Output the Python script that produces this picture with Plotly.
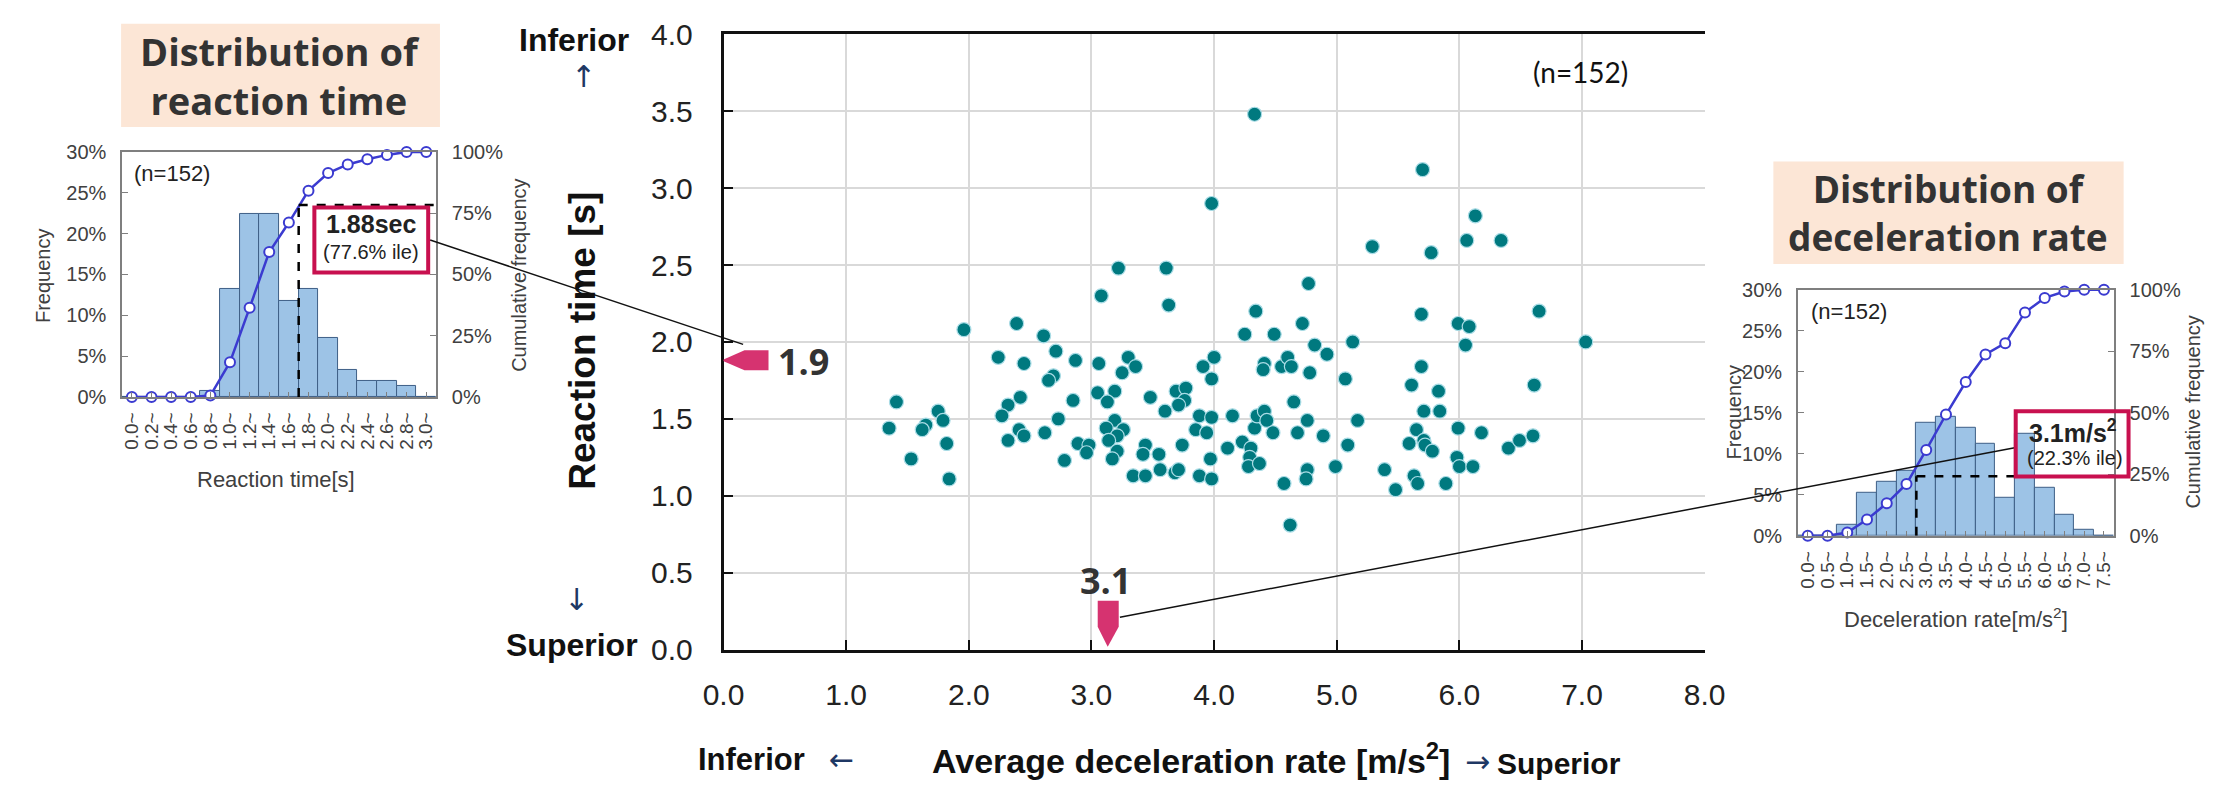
import plotly.graph_objects as go

W, H = 2230, 794

# ---------------- data ----------------
decel = [1.41, 1.35, 1.53, 1.75, 1.79, 1.65, 1.62, 1.82, 1.84, 1.96,
         2.39, 2.61, 2.71, 3.08, 3.22, 2.24, 2.45, 2.87, 3.06, 3.30,
         3.36, 3.25, 2.69, 2.65, 2.42, 2.32, 2.27, 2.41, 2.45, 2.32,
         2.62, 2.73, 2.85, 2.78, 2.89, 2.98, 2.96, 3.05, 3.19, 3.13,
         3.19, 3.12, 3.26, 3.21, 3.14, 3.21, 3.17, 3.34, 3.44, 3.42,
         3.44, 3.55, 3.56, 3.68, 3.71, 3.74, 3.48, 3.60, 3.69, 3.77,
         3.76, 3.71, 3.88, 3.98, 3.85, 3.94, 3.97, 3.88, 3.98, 3.91,
         4.00, 3.98, 4.15, 4.11, 4.23, 4.30, 4.29, 4.28, 4.37, 4.33,
         4.35, 4.41, 4.43, 4.48, 4.41, 4.40, 4.55, 4.60, 4.63, 4.78,
         4.65, 4.76, 4.68, 4.89, 5.07, 5.17, 5.09, 4.99, 4.76, 4.75,
         4.57, 4.62, 5.39, 5.48, 5.63, 5.66, 5.89, 5.59, 5.65, 5.71,
         5.72, 5.78, 5.71, 5.84, 5.61, 5.83, 5.69, 5.99, 6.18, 5.98,
         6.00, 6.11, 6.40, 6.49, 6.60, 6.61, 4.25, 4.49, 4.82, 5.13,
         6.05, 7.03, 4.92, 4.33, 5.70, 3.98, 6.13, 6.06, 6.34, 5.29,
         5.77, 3.61, 3.63, 4.77, 4.34, 5.69, 6.65, 4.72, 5.99, 6.08]
react = [1.61, 1.44, 1.24, 1.55, 1.49, 1.46, 1.43, 1.34, 1.11, 2.08,
         2.12, 2.04, 1.94, 2.30, 2.48, 1.90, 1.86, 1.88, 1.86, 1.90,
         1.84, 1.80, 1.78, 1.75, 1.64, 1.59, 1.52, 1.43, 1.39, 1.36,
         1.41, 1.50, 1.62, 1.23, 1.34, 1.33, 1.28, 1.67, 1.68, 1.61,
         1.49, 1.44, 1.43, 1.39, 1.36, 1.29, 1.24, 1.13, 1.33, 1.27,
         1.13, 1.27, 1.17, 1.15, 1.17, 1.33, 1.64, 1.55, 1.68, 1.70,
         1.62, 1.59, 1.52, 1.51, 1.43, 1.41, 1.24, 1.13, 1.11, 1.84,
         1.90, 1.76, 1.52, 1.31, 1.35, 1.31, 1.25, 1.19, 1.21, 1.44,
         1.52, 1.55, 1.49, 1.41, 1.86, 1.82, 1.84, 1.90, 1.84, 1.80,
         1.61, 1.49, 1.41, 1.39, 1.76, 1.49, 1.33, 1.19, 1.17, 1.11,
         1.08, 0.81, 1.17, 1.04, 1.13, 1.08, 1.08, 1.34, 1.43, 1.36,
         1.33, 1.29, 1.55, 1.55, 1.72, 1.68, 1.84, 1.44, 1.41, 1.25,
         1.19, 1.19, 1.31, 1.36, 1.39, 1.72, 2.05, 2.05, 1.98, 2.00,
         1.98, 2.00, 1.92, 3.48, 3.12, 2.90, 2.82, 2.66, 2.66, 2.62,
         2.58, 2.48, 2.24, 2.38, 2.20, 2.18, 2.20, 2.12, 2.12, 2.10]

rt_bins = ["0.0~", "0.2~", "0.4~", "0.6~", "0.8~", "1.0~", "1.2~", "1.4~",
           "1.6~", "1.8~", "2.0~", "2.2~", "2.4~", "2.6~", "2.8~", "3.0~"]
rt_freq = [0, 0, 0, 0, 0.7, 13.2, 22.4, 22.4, 11.8, 13.2, 7.2, 3.3, 2.0, 2.0, 1.3, 0]
rt_cum = [0, 0, 0, 0, 0.6, 14.2, 36.4, 59.2, 71.2, 84.2, 91.4, 94.9, 97.0, 98.8, 100, 100]

dr_bins = ["0.0~", "0.5~", "1.0~", "1.5~", "2.0~", "2.5~", "3.0~", "3.5~",
           "4.0~", "4.5~", "5.0~", "5.5~", "6.0~", "6.5~", "7.0~", "7.5~"]
dr_freq = [0, 0, 1.3, 5.3, 6.6, 7.9, 13.8, 14.5, 13.2, 11.2, 4.6, 12.5, 5.9, 2.6, 0.7, 0]
dr_cum = [0, 0, 1.3, 6.6, 13.2, 21.1, 34.9, 49.3, 62.5, 73.7, 78.3, 90.8, 96.7, 99.3, 100, 100]

freq_ticks = [0, 5, 10, 15, 20, 25, 30]
cum_ticks = [0, 25, 50, 75, 100]

rt_mark, dr_mark = 1.9, 3.1
rt_cut_pos, rt_cut_level = 8.5, 78.4
dr_cut_pos, dr_cut_level = 5.5, 24.2

# ---------------- styling ----------------
ARIAL = "Liberation Sans, Arial, sans-serif"
SEGOE = "Open Sans, Noto Sans, sans-serif"
ARROWF = "DejaVu Sans, sans-serif"
PINK = "#D63370"
CRIMSON = "#C8104F"
NAVY = "#1F3864"
PEACH = "#FCE6D6"
BAR = "#9DC3E6"
BAR_LINE = "#3E5F86"
CUM = "#3B3BD0"
TEAL = "#00797F"


def px(x):
    return x / W


def py(y):
    return 1 - y / H


fig = go.Figure()

# main scatter
fig.add_trace(go.Scatter(x=decel, y=react, mode="markers", xaxis="x", yaxis="y",
                         marker=dict(size=14, color=TEAL, line=dict(color="#A9DCE6", width=1.2)),
                         hoverinfo="x+y"))

# left histogram
fig.add_trace(go.Bar(x=rt_bins, y=rt_freq, xaxis="x2", yaxis="y2", width=1,
                     marker=dict(color=BAR, line=dict(color=BAR_LINE, width=1))))
fig.add_trace(go.Scatter(x=rt_bins, y=rt_cum, xaxis="x2", yaxis="y3", mode="lines+markers",
                         cliponaxis=False, line=dict(color=CUM, width=2.5),
                         marker=dict(size=10, color="white", line=dict(color=CUM, width=2))))

# right histogram
fig.add_trace(go.Bar(x=dr_bins, y=dr_freq, xaxis="x4", yaxis="y4", width=1,
                     marker=dict(color=BAR, line=dict(color=BAR_LINE, width=1))))
fig.add_trace(go.Scatter(x=dr_bins, y=dr_cum, xaxis="x4", yaxis="y5", mode="lines+markers",
                         cliponaxis=False, line=dict(color=CUM, width=2.5),
                         marker=dict(size=10, color="white", line=dict(color=CUM, width=2))))

main_x_dom = [px(716), px(1716)]
main_y_dom = [py(661), py(18)]
lh_x_dom = [px(103), px(423)]
lh_y_dom = [py(397), py(141)]
rh_x_dom = [px(1811), px(2133)]
rh_y_dom = [py(542), py(285)]

main_axis = dict(showline=True, linewidth=2.5, linecolor="#111", ticks="inside", ticklen=10,
                 tickwidth=2, tickcolor="#111", showgrid=True, gridcolor="#D9D9D9", gridwidth=1.5,
                 zeroline=False, tickformat=".1f", tickfont=dict(family=ARIAL, size=30, color="#222"))

hist_y = dict(showline=True, linewidth=1.5, linecolor="#7F7F7F", ticks="inside", ticklen=6,
              tickcolor="#7F7F7F", showgrid=False, zeroline=False, tickmode="array",
              tickfont=dict(family=ARIAL, size=20, color="#404040"), ticklabelstandoff=10)
hist_x = dict(type="category", showline=True, linewidth=1.5, linecolor="#7F7F7F", mirror=True,
              ticks="inside", ticklen=5, tickcolor="#7F7F7F", tickangle=-90, range=[-0.5, 15.5],
              showgrid=False, tickfont=dict(family=ARIAL, size=19, color="#404040"),
              ticklabelstandoff=6, tickmode="array")

fig.update_layout(
    width=W, height=H, margin=dict(l=0, r=0, t=0, b=0),
    paper_bgcolor="white", plot_bgcolor="rgba(0,0,0,0)", showlegend=False, bargap=0,
    xaxis=dict(main_axis, domain=main_x_dom, anchor="y", range=[0, 8], dtick=1, mirror=True,
               ticklabelstandoff=17),
    yaxis=dict(main_axis, domain=main_y_dom, anchor="x", range=[0, 4], dtick=0.5,
               ticklabelstandoff=22),
    xaxis2=dict(hist_x, domain=lh_x_dom, anchor="y2", categoryorder="array", categoryarray=rt_bins,
                tickvals=rt_bins, ticktext=rt_bins),
    yaxis2=dict(hist_y, domain=lh_y_dom, anchor="x2", range=[0, 30], tickvals=freq_ticks,
                ticktext=["%d%%" % v for v in freq_ticks]),
    yaxis3=dict(hist_y, overlaying="y2", anchor="x2", side="right", range=[0, 100],
                tickvals=cum_ticks, ticktext=["%d%%" % v for v in cum_ticks]),
    xaxis4=dict(hist_x, domain=rh_x_dom, anchor="y4", categoryorder="array", categoryarray=dr_bins,
                tickvals=dr_bins, ticktext=dr_bins),
    yaxis4=dict(hist_y, domain=rh_y_dom, anchor="x4", range=[0, 30], tickvals=freq_ticks,
                ticktext=["%d%%" % v for v in freq_ticks]),
    yaxis5=dict(hist_y, overlaying="y4", anchor="x4", side="right", range=[0, 100],
                tickvals=cum_ticks, ticktext=["%d%%" % v for v in cum_ticks]),
)

shapes = []


def rect(x0, y0, x1, y1, **kw):
    d = dict(type="rect", xref="paper", yref="paper", x0=px(x0), x1=px(x1), y0=py(y0), y1=py(y1))
    d.update(kw)
    shapes.append(d)


def pline(x0, y0, x1, y1, **kw):
    d = dict(type="line", xref="paper", yref="paper", x0=px(x0), x1=px(x1), y0=py(y0), y1=py(y1))
    d.update(kw)
    shapes.append(d)


# title boxes
rect(102, 7, 427, 115, fillcolor=PEACH, line=dict(width=0), layer="below")
rect(1786, 151, 2143, 258, fillcolor=PEACH, line=dict(width=0), layer="below")

# dashed percentile guides
dash = dict(color="black", width=2.5, dash="dash")
shapes.append(dict(type="line", xref="x2", yref="y3", x0=rt_cut_pos, x1=rt_cut_pos, y0=0, y1=rt_cut_level, line=dash))
shapes.append(dict(type="line", xref="x2", yref="y3", x0=rt_cut_pos, x1=15.5, y0=rt_cut_level, y1=rt_cut_level, line=dash))
shapes.append(dict(type="line", xref="x4", yref="y5", x0=dr_cut_pos, x1=dr_cut_pos, y0=0, y1=dr_cut_level, line=dash))
shapes.append(dict(type="line", xref="x4", yref="y5", x0=dr_cut_pos, x1=15.5, y0=dr_cut_level, y1=dr_cut_level, line=dash))

# connector lines
pline(417, 233, 736, 342, line=dict(color="#111", width=1.5))
pline(1120, 627, 2032, 450, line=dict(color="#111", width=1.5))

# call-out boxes
rect(299, 199, 415, 267, fillcolor="white", line=dict(color=CRIMSON, width=4))
rect(2033, 412, 2148, 480, fillcolor="rgba(0,0,0,0)", line=dict(color=CRIMSON, width=4))

# pink markers on the main axes
shapes.append(dict(type="path", xref="x", yref="y", xsizemode="pixel", ysizemode="pixel",
                   xanchor=0, yanchor=rt_mark, path="M -2,-3 L 21,7 L 45,7 L 45,-13 L 21,-13 Z",
                   fillcolor=PINK, line=dict(width=0)))
shapes.append(dict(type="path", xref="x", yref="y", xsizemode="pixel", ysizemode="pixel",
                   xanchor=dr_mark, yanchor=0, path="M 4,3 L -6,23 L -6,49 L 15,49 L 15,23 Z",
                   fillcolor=PINK, line=dict(width=0)))

fig.update_layout(shapes=shapes)

anns = []


def ann(text, x, y, size, family=ARIAL, color="#222", xanchor="center", yanchor="middle", angle=0):
    anns.append(dict(text=text, x=px(x), y=py(y), xref="paper", yref="paper", showarrow=False,
                     xanchor=xanchor, yanchor=yanchor, textangle=angle,
                     font=dict(family=family, size=size, color=color)))


# main chart texts
ann("<b>Inferior</b>", 564, 24, 32, color="#111")
ann("↑", 573, 62, 30, family=ARROWF, color=NAVY)
ann("↓", 566, 609, 30, family=ARROWF, color=NAVY)
ann("<b>Superior</b>", 562, 656, 32, color="#111")
ann("<b>Reaction time [s]</b>", 572, 338, 37, color="#111", angle=-90)
ann("<b>Average deceleration rate [m/s<sup>2</sup>]</b>", 1192, 775, 34, color="#111")
ann("<b>Inferior</b>", 688, 776, 31, color="#111", xanchor="left")
ann("←", 836, 776, 30, family=ARROWF, color=NAVY)
ann("→", 1484, 778, 30, family=ARROWF, color=NAVY)
ann("<b>Superior</b>", 1502, 780, 30, color="#111", xanchor="left")
ann("(n=152)", 1640, 57, 28, family="Lato, sans-serif", color="#111", xanchor="right")
ann("<b>%.1f</b>" % rt_mark, 798, 360, 36, family=SEGOE, color="#333")
ann("<b>%.1f</b>" % dr_mark, 1105, 589, 36, family=SEGOE, color="#333")

# left histogram texts
ann("<b>Distribution of<br>reaction time</b>", 264, 61, 38, family=SEGOE, color="#333")
ann("(n=152)", 113, 163, 22, color="#222", xanchor="left")
ann("<b>1.88sec</b>", 357, 216, 25, color="#222")
ann("(77.6% ile)", 357, 246, 20, color="#222")
ann("Frequency", 23, 270, 20, color="#404040", angle=-90)
ann("Cumulative frequency", 508, 270, 20, color="#404040", angle=-90)
ann("Reaction time[s]", 260, 483, 22, color="#404040")

# right histogram texts
ann("<b>Distribution of<br>deceleration rate</b>", 1964, 204, 37, family=SEGOE, color="#333")
ann("(n=152)", 1822, 308, 22, color="#222", xanchor="left")
ann("<b>3.1m/s<sup>2</sup></b>", 2091, 432, 25, color="#222")
ann("(22.3% ile)", 2093, 461, 20, color="#222")
ann("Frequency", 1746, 413, 20, color="#404040", angle=-90)
ann("Cumulative frequency", 2214, 413, 20, color="#404040", angle=-90)
ann("Deceleration rate[m/s<sup>2</sup>]", 1972, 628, 22, color="#404040")

fig.update_layout(annotations=anns)

fig.write_html("out.html")
